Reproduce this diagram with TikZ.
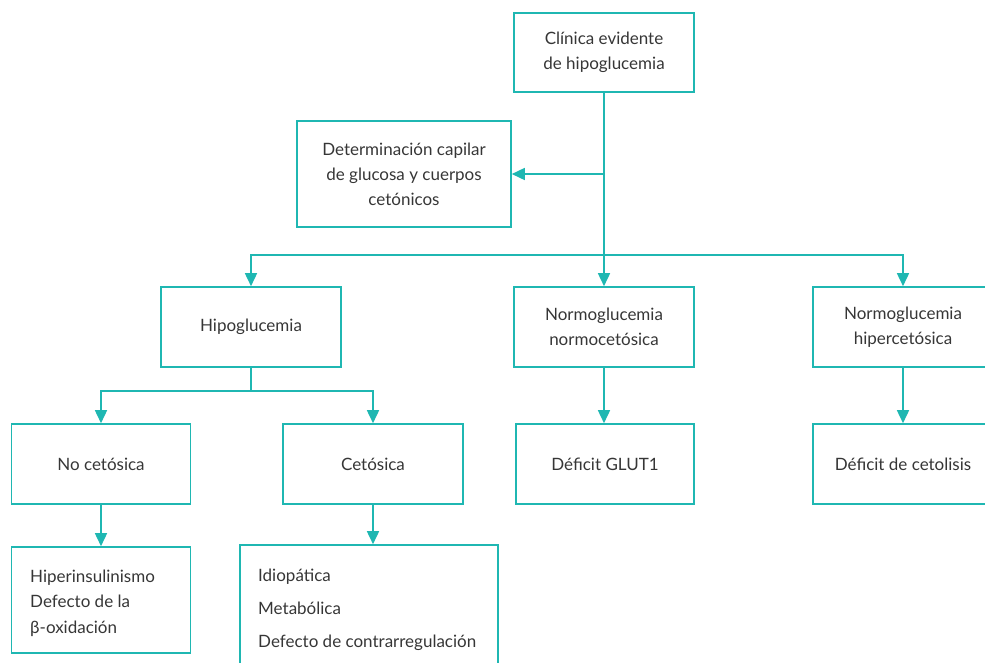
\documentclass[tikz,border=0pt]{standalone}
\usepackage{fontspec}
\setmainfont{Lato}
\usetikzlibrary{arrows.meta}
\definecolor{teal1}{HTML}{1FB7B2}
\definecolor{txt}{HTML}{363636}
\begin{document}
\begin{tikzpicture}[x=1pt,y=-1pt,
  box/.style={draw=teal1, line width=1.6pt, text=txt, align=center, inner sep=0pt,
     font=\fontsize{17}{25}\selectfont},
  lefttext/.style={text=txt, align=left, inner sep=0pt, anchor=west},
  arr/.style={draw=teal1, line width=1.6pt, -{Triangle[length=13pt,width=12pt]}},
  ln/.style={draw=teal1, line width=1.6pt}]
\useasboundingbox (0,0) rectangle (985,662);
\clip (0,0) rectangle (985,662);
\node[box, minimum width=180pt, minimum height=79pt] (top) at (604,52.5) {Clínica evidente\\de hipoglucemia};
\node[box, minimum width=214pt, minimum height=106pt] (det) at (404,174) {Determinación capilar\\de glucosa y cuerpos\\cetónicos};
\node[box, minimum width=180pt, minimum height=80pt] (hipo) at (251,327) {Hipoglucemia};
\node[box, minimum width=180pt, minimum height=80pt] (normo) at (604,327) {Normoglucemia\\normocetósica};
\node[box, minimum width=180pt, minimum height=80pt] (hiper) at (903,327) {Normoglucemia\\hipercetósica};
\node[box, minimum width=179pt, minimum height=80pt] (noc) at (101,464) {No cetósica};
\node[box, minimum width=180pt, minimum height=80pt] (cet) at (373,464) {Cetósica};
\node[box, minimum width=178pt, minimum height=80pt] (glut) at (605,464) {Déficit GLUT1};
\node[box, minimum width=180pt, minimum height=80pt] (cetol) at (903,464) {Déficit de cetolisis};
\node[box, minimum width=179pt, minimum height=106pt] (hins) at (101,600) {};
\node[lefttext, font=\fontsize{17}{25.5}\selectfont] (hinstext) at (30,603) {Hiperinsulinismo\\Defecto de la\\β-oxidación};
\node[box, minimum width=258pt, minimum height=134pt] (list) at (369,612) {};
\node[lefttext, font=\fontsize{17}{33}\selectfont] (listtext) at (258,610) {Idiopática\\Metabólica\\Defecto de contrarregulación};
% connectors
\draw[arr] (top.south) -- (normo.north);
\draw[arr] (top.south |- det.east) -- (det.east);
\coordinate (j1) at (604,255);
\draw[arr] (j1) -| (hipo.north);
\draw[arr] (j1) -| (hiper.north);
\coordinate (j2) at (hipo.south |- 0,391);
\draw[ln] (hipo.south) -- (j2);
\draw[arr] (j2) -| (noc.north);
\draw[arr] (j2) -| (cet.north);
\draw[arr] (normo.south) -- (normo.south |- glut.north);
\draw[arr] (hiper.south) -- (cetol.north);
\draw[arr] (noc.south) -- (hins.north);
\draw[arr] (cet.south) -- (cet.south |- list.north);
\end{tikzpicture}
\end{document}
